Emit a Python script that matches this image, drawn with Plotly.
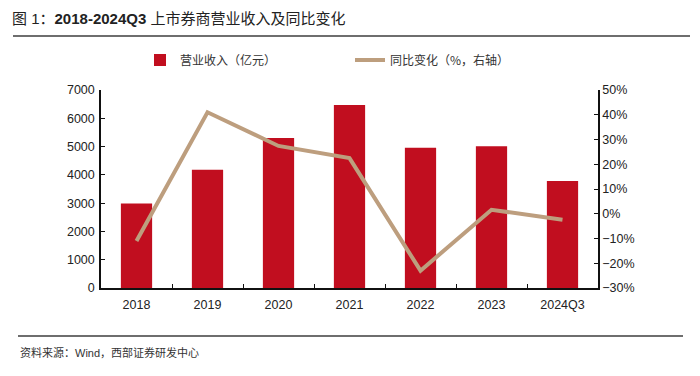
import plotly.graph_objects as go

categories = ["2018", "2019", "2020", "2021", "2022", "2023", "2024Q3"]
revenue = [2985, 4180, 5300, 6470, 4960, 5010, 3780]
yoy = [-11.0, 41.0, 27.4, 22.5, -23.0, 1.6, -2.4]

bar_name = "营业收入（亿元）"
line_name = "同比变化（%，右轴）"
title_text = "图 1：<b>2018-2024Q3</b> 上市券商营业收入及同比变化"
source_text = "资料来源：Wind，西部证券研发中心"

FONT = "Liberation Sans, Arial, Noto Sans CJK SC, sans-serif"
RED = "#C10E1F"
TAN = "#BD9E7E"

L, R, T, B = 101, 102, 90, 88
W, H = 700, 376
pw, ph = W - L - R, H - T - B

def px(x):
    return (x - L) / pw

def py(y):
    return (H - B - y) / ph

fig = go.Figure()
fig.add_trace(go.Bar(x=categories, y=revenue, name=bar_name, marker_color=RED,
                     marker_line_width=0, yaxis="y"))
fig.add_trace(go.Scatter(x=categories, y=yoy, name=line_name, mode="lines",
                         line=dict(color=TAN, width=4), yaxis="y2"))

fig.update_layout(
    width=W, height=H, autosize=False,
    margin=dict(l=L, r=R, t=T, b=B, pad=0),
    paper_bgcolor="white", plot_bgcolor="white",
    font=dict(family=FONT, size=12, color="#222"),
    bargap=0.56,
    showlegend=True,
    legend=dict(orientation="h", xref="container", yref="container",
                x=140 / W, xanchor="left", y=1 - 60 / H, yanchor="middle",
                font=dict(family="Noto Sans CJK SC, sans-serif", size=12, color="#333"),
                entrywidth=165, entrywidthmode="pixels", bgcolor="rgba(0,0,0,0)",
                traceorder="normal"),
    xaxis=dict(type="category", showline=True, linecolor="#111", linewidth=1.5,
               ticks="inside", ticklen=4, tickcolor="#111", tickson="boundaries",
               showgrid=False, zeroline=False, automargin=False, ticklabelstandoff=4,
               tickfont=dict(size=12.5, color="#222")),
    yaxis=dict(range=[0, 7000], dtick=1000, showline=True, linecolor="#111", linewidth=1.5,
               ticks="inside", ticklen=4, tickcolor="#111", showgrid=False, zeroline=False,
               automargin=False, ticklabelstandoff=2,
               tickfont=dict(size=12.5, color="#222")),
    yaxis2=dict(range=[-30, 50], dtick=10, overlaying="y", side="right", ticksuffix="%",
                showline=True, linecolor="#111", linewidth=1.5, ticks="inside", ticklen=4,
                tickcolor="#111", showgrid=False, zeroline=False, automargin=False,
                tickfont=dict(size=12.5, color="#222")),
    shapes=[
        dict(type="line", xref="paper", yref="paper", x0=px(13), x1=px(690), y0=py(36), y1=py(36),
             line=dict(color="#6e6e6e", width=2)),
        dict(type="line", xref="paper", yref="paper", x0=px(18), x1=px(683), y0=py(336), y1=py(336),
             line=dict(color="#6e6e6e", width=2)),
    ],
    annotations=[
        dict(text=title_text, xref="paper", yref="paper", x=px(10), y=py(18), xanchor="left",
             yanchor="middle", showarrow=False,
             font=dict(family=FONT, size=15, color="#222")),
        dict(text=source_text, xref="paper", yref="paper", x=px(18), y=py(352), xanchor="left",
             yanchor="middle", showarrow=False,
             font=dict(family=FONT, size=11, color="#333")),
    ],
)

fig.write_html("out.html", config={"displayModeBar": False},
               post_script="document.body.style.margin='0px';")
